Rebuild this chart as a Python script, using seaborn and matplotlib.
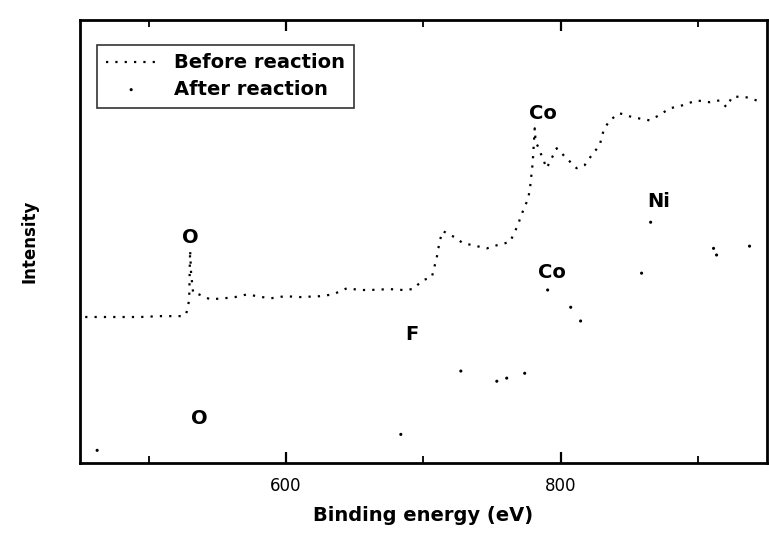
import matplotlib
matplotlib.use("Agg")
import matplotlib.pyplot as plt
import seaborn as sns
import pandas as pd
from matplotlib.ticker import MultipleLocator

# Before reaction (upper trace)
before_ev = [453.8, 472.0, 493.8, 508.4, 525.1, 527.3, 529.5, 530.2, 530.9, 532.4,
             534.5, 544.7, 554.2, 562.9, 571.6, 588.4, 599.3, 610.2, 624.7, 634.2,
             644.4, 653.8, 661.1, 675.6, 685.1, 692.4, 699.6, 706.2, 709.8, 712.0,
             714.2, 722.9, 728.7, 736.0, 746.2, 755.6, 762.9, 766.5, 769.5, 773.8,
             776.0, 777.5, 779.6, 781.1, 781.8, 783.3, 789.8, 797.1, 804.4, 811.6,
             817.5, 822.5, 828.4, 831.3, 835.6, 842.9, 852.4, 864.7, 872.0, 879.3,
             888.7, 898.9, 908.4, 915.6, 920.7, 925.1, 935.3, 944.7]
before_int = [33.0, 33.0, 33.0, 33.2, 33.2, 33.6, 36.8, 48.1, 42.9, 38.4,
              38.4, 37.0, 37.2, 37.5, 38.1, 37.2, 37.7, 37.5, 37.7, 38.1,
              39.5, 39.1, 39.1, 39.3, 39.1, 39.3, 41.3, 42.0, 46.5, 50.3,
              52.4, 51.0, 49.7, 49.2, 48.5, 49.4, 49.9, 52.1, 54.4, 58.0,
              59.4, 61.6, 67.7, 75.6, 72.5, 71.6, 66.6, 71.1, 68.8, 66.6,
              67.3, 69.5, 71.8, 75.2, 77.4, 79.0, 78.1, 77.4, 78.6, 80.1,
              80.8, 81.9, 81.5, 81.9, 80.4, 82.8, 82.6, 81.7]

# After reaction (lower, faint trace)
after_ev = [462.5, 683.6, 727.3, 753.5, 760.7, 773.8, 790.5, 807.3, 814.5,
            858.9, 865.5, 911.3, 913.5, 937.5]
after_int = [2.9, 6.5, 20.8, 18.5, 19.2, 20.3, 39.1, 35.2, 32.1,
             42.9, 54.4, 48.5, 47.0, 49.0]

# Peak labels
peak_labels = ["O", "Co", "Ni", "Co", "F", "O"]
peak_x = [530, 787, 871, 794, 692, 537]
peak_y = [51, 79, 59, 43, 29, 10]

FONT = "DejaVu Sans"

sns.set_theme(style="white")
plt.rcParams['font.family'] = ['Liberation Sans', 'DejaVu Sans']

df_b = pd.DataFrame({"ev": before_ev, "I": before_int})
df_a = pd.DataFrame({"ev": after_ev, "I": after_int})

fig = plt.figure(figsize=(7.69, 5.33), dpi=100)
ax = fig.add_axes([0.104, 0.131, 0.893, 0.831])

sns.lineplot(data=df_b, x="ev", y="I", ax=ax, color="black",
             linestyle=(0, (1.0, 3.2)), linewidth=1.6, label="Before reaction",
             sort=False)
sns.scatterplot(data=df_a, x="ev", y="I", ax=ax, color="black", s=5,
                edgecolor="none", label="After reaction")

for t, x, y in zip(peak_labels, peak_x, peak_y):
    ax.text(x, y, t, ha="center", va="center", fontsize=14, fontweight="bold",
            color="black", family=FONT)

ax.set_xlim(450, 950)
ax.set_ylim(0, 100)
ax.xaxis.set_major_locator(MultipleLocator(200))
ax.xaxis.set_minor_locator(MultipleLocator(100))
ax.set_yticks([])
ax.tick_params(axis="x", which="major", direction="in", length=8, width=1.6,
               top=True, bottom=True, labelsize=12, pad=10, colors="black")
ax.tick_params(axis="x", which="minor", direction="in", length=5, width=1.3,
               top=True, bottom=True, colors="black")
for lbl in ax.get_xticklabels():
    lbl.set_family(FONT)
for s in ax.spines.values():
    s.set_visible(True)
    s.set_color("black")
    s.set_linewidth(2)

ax.set_xlabel("Binding energy (eV)", fontsize=14, fontweight="bold", labelpad=8,
              color="black", family=FONT)
ax.set_ylabel("Intensity", fontsize=12, fontweight="bold", labelpad=30,
              color="black", family=FONT)

leg = ax.legend(loc="upper left", bbox_to_anchor=(0.025, 0.945), frameon=True,
                fancybox=False, edgecolor="black", borderaxespad=0,
                handlelength=2.6, handletextpad=0.9, borderpad=0.45,
                labelspacing=0.38,
                prop={"family": FONT, "weight": "bold", "size": 14})
leg.get_frame().set_linewidth(1.2)
for txt in leg.get_texts():
    txt.set_color("black")

fig.savefig("out.png", dpi=100)
